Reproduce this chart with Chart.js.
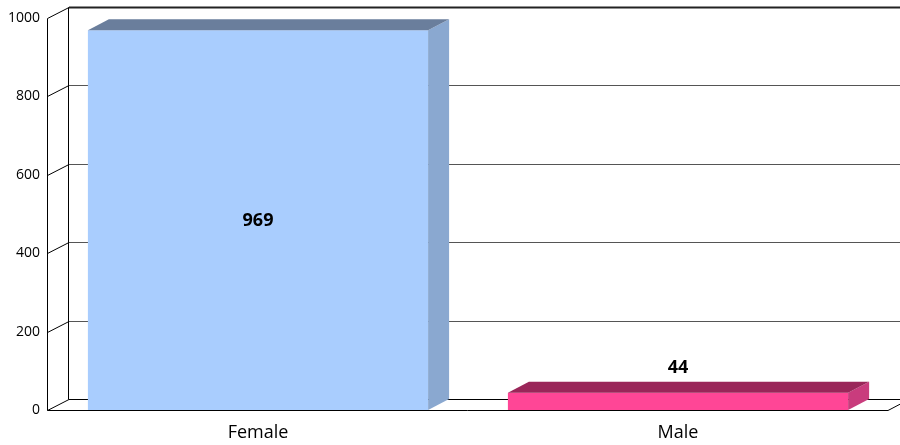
<!DOCTYPE html>
<html>
<head>
<meta charset="utf-8">
<script src="https://cdn.jsdelivr.net/npm/chart.js@4.4.1/dist/chart.umd.min.js"></script>
<style>
  html, body { margin: 0; padding: 0; background: #fff; }
  #wrap { width: 900px; height: 445px; }
</style>
</head>
<body>
<div id="wrap"><canvas id="chart" width="900" height="445"></canvas></div>
<script>
var categories = ['Female', 'Male'];
var counts = [969, 44];
var frontColors = ['#A9CDFE', '#FF4696'];
var sideColors = ['#8AA8D0', '#C93C7D'];
var topColors = ['#6A7E9C', '#9A2659'];
var yTicks = [0, 200, 400, 600, 800, 1000];

// depth of the fake 3d box
var DX = 21, DY = -11;
var FONT = '"Open Sans", Lato, sans-serif';

var box3d = {
  id: 'box3d',
  beforeDatasetsDraw: function (chart) {
    var ctx = chart.ctx;
    var y = chart.scales.y;
    var a = chart.chartArea;
    ctx.save();
    // back wall grid lines + side wall diagonals
    yTicks.forEach(function (t) {
      var py = Math.round(y.getPixelForValue(t)) + 0.5;
      if (t === 1000) {
        ctx.lineWidth = 2;
        ctx.strokeStyle = '#222';
      } else {
        ctx.lineWidth = 1;
        ctx.strokeStyle = t === 0 ? '#000' : '#555';
      }
      ctx.beginPath();
      ctx.moveTo(a.left + DX, py + DY);
      ctx.lineTo(chart.width + 5, py + DY);
      ctx.stroke();
      ctx.lineWidth = 1;
      ctx.strokeStyle = '#000';
      ctx.beginPath();
      ctx.moveTo(a.left - 0.5, py);
      ctx.lineTo(a.left + DX, py + DY);
      ctx.stroke();
    });
    // left wall verticals
    var top = Math.round(y.getPixelForValue(1000)) + 0.5;
    var bot = Math.round(y.getPixelForValue(0)) + 0.5;
    ctx.beginPath();
    ctx.moveTo(a.left - 0.5, top);
    ctx.lineTo(a.left - 0.5, bot);
    ctx.moveTo(a.left + DX - 0.5, top + DY);
    ctx.lineTo(a.left + DX - 0.5, bot + DY);
    ctx.stroke();
    // floor front edge and right edge
    ctx.beginPath();
    ctx.moveTo(a.left - 0.5, bot);
    ctx.lineTo(a.right, bot);
    ctx.lineTo(a.right + DX, bot + DY);
    ctx.stroke();
    ctx.restore();
  },
  afterDatasetsDraw: function (chart) {
    var ctx = chart.ctx;
    var meta = chart.getDatasetMeta(0);
    ctx.save();
    meta.data.forEach(function (bar, i) {
      var p = bar.getProps(['x', 'y', 'base', 'width'], true);
      var l = p.x - p.width / 2, r = p.x + p.width / 2, t = p.y, b = p.base;
      // side face
      ctx.fillStyle = sideColors[i];
      ctx.beginPath();
      ctx.moveTo(r, b);
      ctx.lineTo(r, t);
      ctx.lineTo(r + DX, t + DY);
      ctx.lineTo(r + DX, b + DY);
      ctx.closePath();
      ctx.fill();
      // top face
      ctx.fillStyle = topColors[i];
      ctx.beginPath();
      ctx.moveTo(l, t);
      ctx.lineTo(r, t);
      ctx.lineTo(r + DX, t + DY);
      ctx.lineTo(l + DX, t + DY);
      ctx.closePath();
      ctx.fill();
      // value label
      ctx.fillStyle = '#000';
      ctx.font = 'bold 18px ' + FONT;
      ctx.textAlign = 'center';
      ctx.textBaseline = 'middle';
      var ly = (b - t) > 60 ? (t + b) / 2 + 1 : t + DY - 14;
      ctx.fillText(String(counts[i]), p.x, ly);
    });
    ctx.restore();
  }
};

var config = {
  type: 'bar',
  data: {
    labels: categories,
    datasets: [{
      data: counts,
      backgroundColor: frontColors,
      borderWidth: 0,
      barPercentage: 0.9,
      categoryPercentage: 0.9
    }]
  },
  options: {
    responsive: false,
    animation: false,
    layout: { padding: { top: 18, right: 12, left: 0, bottom: 0 } },
    plugins: {
      legend: { display: false },
      title: { display: false },
      tooltip: { enabled: false }
    },
    scales: {
      y: {
        min: 0,
        max: 1000,
        afterFit: function (s) { s.width = 48; },
        afterBuildTicks: function (s) {
          s.ticks = yTicks.map(function (v) { return { value: v }; });
        },
        grid: { display: false, drawTicks: false },
        border: { display: false },
        ticks: {
          color: '#000',
          padding: 8,
          callback: function (v) { return String(v); },
          font: { family: FONT, size: 14 }
        }
      },
      x: {
        afterFit: function (s) { s.height = 35; },
        grid: { display: false, drawTicks: false },
        border: { display: false },
        ticks: {
          color: '#000',
          padding: 12,
          font: { family: FONT, size: 18 }
        }
      }
    }
  },
  plugins: [box3d]
};

new Chart(document.getElementById('chart').getContext('2d'), config);
</script>
</body>
</html>
